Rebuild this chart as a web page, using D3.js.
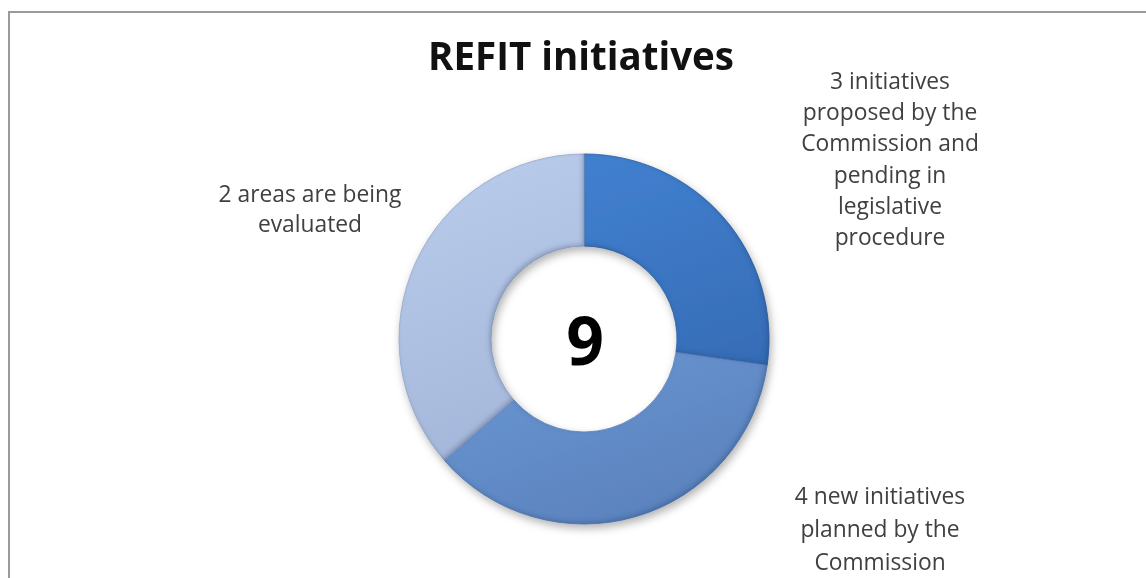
<!DOCTYPE html>
<html><head><meta charset="utf-8">
<script src="https://cdn.jsdelivr.net/npm/d3@7"></script>
<style>body{margin:0;background:#fff}svg{display:block}</style>
</head><body>
<script>
// Data (slice sizes as drawn; labels as written)
const categories = ["proposed", "planned", "evaluated"];
const sliceValues = [3, 4, 4];
const sliceLabels = [
  ["3 initiatives", "proposed by the", "Commission and", "pending in", "legislative", "procedure"],
  ["4 new initiatives", "planned by the", "Commission"],
  ["2 areas are being", "evaluated"]
];
const title = "REFIT initiatives";
const centerText = "9";

const W = 1146, H = 578;
const svg = d3.select("body").append("svg").attr("width", W).attr("height", H);
const defs = svg.append("defs");

// frame (top and left edges visible)
svg.append("rect").attr("x", 9).attr("y", 12).attr("width", W + 20).attr("height", H + 20)
  .attr("fill", "#fff").attr("stroke", "#9a9a9a").attr("stroke-width", 2);

const cx = 584, cy = 339, rOuter = 185, rInner = 93;
const colors = {
  proposed: ["#4282d2", "#3a73bf", "#3062a6"],
  planned: ["#7ca7e2", "#6894d0", "#5b82bd"],
  evaluated: ["#b8cae9", "#aabddf", "#9badd2"]
};
categories.forEach((c, i) => {
  const g = defs.append("linearGradient").attr("id", "g" + i)
    .attr("gradientUnits", "userSpaceOnUse")
    .attr("x1", -rOuter * 0.35).attr("y1", -rOuter).attr("x2", rOuter * 0.35).attr("y2", rOuter);
  g.append("stop").attr("offset", "0%").attr("stop-color", colors[c][0]);
  g.append("stop").attr("offset", "50%").attr("stop-color", colors[c][1]);
  g.append("stop").attr("offset", "100%").attr("stop-color", colors[c][2]);
});
const f = defs.append("filter").attr("id", "shadow").attr("x", "-20%").attr("y", "-20%").attr("width", "140%").attr("height", "140%");
f.append("feDropShadow").attr("dx", 2).attr("dy", 4).attr("stdDeviation", 4).attr("flood-color", "#000").attr("flood-opacity", 0.3);
const bev = defs.append("filter").attr("id", "bevel");
bev.append("feGaussianBlur").attr("in", "SourceAlpha").attr("stdDeviation", 2.5).attr("result", "b");
bev.append("feOffset").attr("in", "b").attr("dx", -2).attr("dy", -2).attr("result", "o");
bev.append("feComposite").attr("in", "SourceAlpha").attr("in2", "o").attr("operator", "out").attr("result", "edge");
bev.append("feFlood").attr("flood-color", "#1d3a66").attr("flood-opacity", 0.45).attr("result", "fc");
bev.append("feComposite").attr("in", "fc").attr("in2", "edge").attr("operator", "in").attr("result", "darkEdge");
const m = bev.append("feMerge");
m.append("feMergeNode").attr("in", "SourceGraphic");
m.append("feMergeNode").attr("in", "darkEdge");

const pie = d3.pie().sort(null).value(d => d)(sliceValues);
const arc = d3.arc().innerRadius(rInner).outerRadius(rOuter);
const gDonut = svg.append("g").attr("transform", `translate(${cx},${cy})`).attr("filter", "url(#shadow)");
gDonut.selectAll("path").data(pie).join("path")
  .attr("d", arc)
  .attr("fill", (d, i) => `url(#g${i})`)
  .attr("stroke", (d, i) => colors[categories[i]][2])
  .attr("stroke-width", 0.8)
  .attr("filter", "url(#bevel)");

svg.append("text").attr("x", 581).attr("y", 70).attr("text-anchor", "middle")
  .attr("font-family", "'Open Sans', Lato, sans-serif").attr("font-weight", "bold")
  .attr("font-size", 38.5).attr("fill", "#111").text(title);

svg.append("text").attr("x", 585).attr("y", 365).attr("text-anchor", "middle")
  .attr("font-family", "'Open Sans', Lato, sans-serif").attr("font-weight", "bold")
  .attr("font-size", 66).attr("fill", "#000").text(centerText);

const labelPos = [
  {x: 890, y: 89, dy: 31.2},
  {x: 880, y: 504, dy: 33},
  {x: 310, y: 202, dy: 30}
];
sliceLabels.forEach((lines, i) => {
  const t = svg.append("text").attr("text-anchor", "middle")
    .attr("font-family", "'Open Sans', Lato, sans-serif").attr("font-size", 22.8).attr("fill", "#404040");
  lines.forEach((ln, j) => t.append("tspan").attr("x", labelPos[i].x).attr("y", labelPos[i].y + j * labelPos[i].dy).text(ln));
});
</script>
</body></html>
